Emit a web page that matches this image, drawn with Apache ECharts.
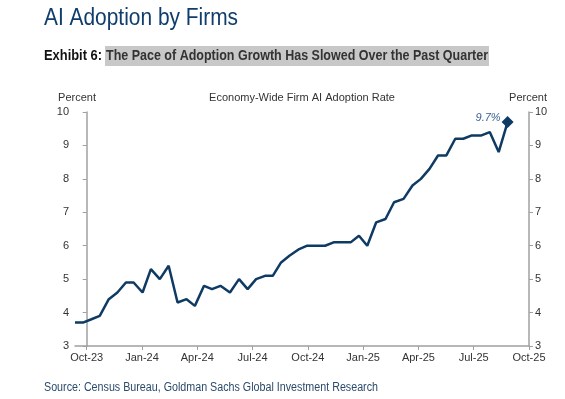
<!DOCTYPE html>
<html>
<head>
<meta charset="utf-8">
<script src="https://cdn.jsdelivr.net/npm/echarts@6/dist/echarts.min.js"></script>
<style>
html,body{margin:0;padding:0;background:#fff;}
#c{width:565px;height:399px;}
</style>
</head>
<body>
<div id="c"></div>
<script>
// ---- data ----
const dates = [
 '2023-09-12','2023-09-25','2023-10-09','2023-10-23','2023-11-07','2023-11-21','2023-12-05','2023-12-18',
 '2024-01-02','2024-01-16','2024-01-31','2024-02-14','2024-02-28','2024-03-14','2024-03-28','2024-04-12',
 '2024-04-25','2024-05-09','2024-05-25','2024-06-09','2024-06-23','2024-07-07','2024-07-22','2024-08-04',
 '2024-08-18','2024-09-01','2024-09-17','2024-09-30','2024-10-15','2024-10-30','2024-11-13','2024-11-27',
 '2024-12-11','2024-12-25','2025-01-08','2025-01-23','2025-02-07','2025-02-20','2025-03-07','2025-03-22',
 '2025-04-05','2025-04-19','2025-05-03','2025-05-17','2025-06-01','2025-06-14','2025-06-28','2025-07-14',
 '2025-07-28','2025-08-12','2025-08-27'
];
const adoption = [
 3.7,3.7,3.8,3.9,4.4,4.6,4.9,4.9,
 4.6,5.3,5.0,5.4,4.3,4.4,4.2,4.8,
 4.7,4.8,4.6,5.0,4.7,5.0,5.1,5.1,
 5.5,5.7,5.9,6.0,6.0,6.0,6.1,6.1,
 6.1,6.3,6.0,6.7,6.8,7.3,7.4,7.8,
 8.0,8.3,8.7,8.7,9.2,9.2,9.3,9.3,
 9.4,8.8,9.7
];
const xTickLabels = ['Oct-23','Jan-24','Apr-24','Jul-24','Oct-24','Jan-25','Apr-25','Jul-25','Oct-25'];
const yTicks = [3,4,5,6,7,8,9,10];

const titleText = 'AI Adoption by Firms';
const exhibitText = 'Exhibit 6:';
const subtitleText = 'The Pace of Adoption Growth Has Slowed Over the Past Quarter';
const chartTitleText = 'Economy-Wide Firm AI Adoption Rate';
const unitText = 'Percent';
const sourceText = 'Source: Census Bureau, Goldman Sachs Global Investment Research';

// months since Oct 2023 (fractional)
function toMonths(s){
  const [y,m,d] = s.split('-').map(Number);
  const dim = new Date(y, m, 0).getDate();
  return (y-2023)*12 + (m-10) + (d-1)/dim;
}
const xs = dates.map(toMonths);
const tickVals = xTickLabels.map((_,i)=>i*3);

// text width helper to emulate a condensed face
const mctx = document.createElement('canvas').getContext('2d');
function fitScale(text, font, target){
  mctx.font = font;
  return target / mctx.measureText(text).width;
}
function narrowText(text, x, y, font, fill, target){
  return {type:'text', x:x, y:y, scaleX:fitScale(text, font, target), silent:true,
    style:{text:text, x:0, y:0, font:font, fill:fill, textAlign:'left', textVerticalAlign:'middle'}};
}

const seriesData = adoption.map((v,i)=>{
  const p = [xs[i], v];
  if(i === adoption.length-1){
    return {value:p, symbol:'diamond', symbolSize:12,
      itemStyle:{color:'#0e3a63'},
      label:{show:true, position:'left', offset:[4,-4], formatter: v.toFixed(1)+'%',
        color:'#3b6294', fontStyle:'italic', fontSize:11, fontFamily:'Liberation Sans, Arial, sans-serif'}};
  }
  return {value:p};
});

const baseFont = 'Liberation Sans, Arial, sans-serif';
const axisFont = {color:'#333', fontSize:11, fontFamily:baseFont};
const axisLineStyle = {color:'#a0a0a0', width:1.5};

const chart = echarts.init(document.getElementById('c'), null, {renderer:'canvas'});
chart.setOption({
  animation:false,
  backgroundColor:'#fff',
  graphic:[
    narrowText(titleText, 44, 19, 'normal 23px "Liberation Sans"', '#0f3d6c', 194),
    narrowText(exhibitText, 44, 56, 'bold 15px "Liberation Sans"', '#111111', 58),
    {type:'rect', silent:true, shape:{x:105, y:46, width:384, height:20}, style:{fill:'#c8c8c8'}},
    narrowText(subtitleText, 106, 56, 'bold 15px "Liberation Sans"', '#333333', 382),
    narrowText(sourceText, 44, 388, 'normal 12px "Liberation Sans"', '#2b4a6c', 334),
    {type:'text', x:302, y:98, silent:true,
     style:{text:chartTitleText, font:'normal 11px "Liberation Sans"', fill:'#333', textAlign:'center', textVerticalAlign:'middle'}},
    {type:'text', x:77, y:98, silent:true,
     style:{text:unitText, font:'normal 11px "Liberation Sans"', fill:'#333', textAlign:'center', textVerticalAlign:'middle'}},
    {type:'text', x:528, y:98, silent:true,
     style:{text:unitText, font:'normal 11px "Liberation Sans"', fill:'#333', textAlign:'center', textVerticalAlign:'middle'}}
  ],
  grid:{left:75, right:36, top:112, bottom:53, containLabel:false},
  xAxis:{
    type:'value', min:xs[0], max:24,
    axisLine:{show:true, lineStyle:axisLineStyle, onZero:false},
    axisTick:{show:true, length:4, customValues:tickVals, lineStyle:{color:'#a0a0a0', width:1}},
    axisLabel:{show:true, customValues:tickVals, margin:6, ...axisFont,
      formatter:(v)=>xTickLabels[Math.round(v/3)]},
    splitLine:{show:false}
  },
  yAxis:[
    {type:'value', min:yTicks[0], max:yTicks[yTicks.length-1], interval:1, position:'left',
     axisLine:{show:true, lineStyle:axisLineStyle},
     axisTick:{show:true, length:4, lineStyle:{color:'#a0a0a0', width:1}},
     axisLabel:{margin:6, ...axisFont}, splitLine:{show:false}},
    {type:'value', min:yTicks[0], max:yTicks[yTicks.length-1], interval:1, position:'right',
     axisLine:{show:true, lineStyle:axisLineStyle},
     axisTick:{show:true, length:4, lineStyle:{color:'#a0a0a0', width:1}},
     axisLabel:{margin:6, ...axisFont}, splitLine:{show:false}}
  ],
  series:[{
    type:'line', data:seriesData, yAxisIndex:0,
    showSymbol:true, symbol:'none', showAllSymbol:true,
    lineStyle:{color:'#0e3a63', width:2.5},
    itemStyle:{color:'#0e3a63'},
    z:5
  }]
});
</script>
</body>
</html>
